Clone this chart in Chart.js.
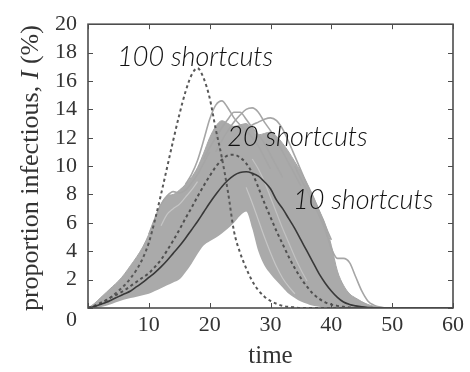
<!DOCTYPE html>
<html>
<head>
<meta charset="utf-8">
<script src="https://cdn.jsdelivr.net/npm/chart.js@4/dist/chart.umd.min.js"></script>
<style>
  html, body { margin: 0; padding: 0; background: #fff; }
</style>
</head>
<body>
<canvas id="c" width="470" height="372"></canvas>
<script>
// time steps (days)
const time = [0,1,2,3,4,5,6,7,8,9,10,11,12,13,14,15,16,17,18,19,20,21,22,23,24,25,26,27,28,29,30,31,32,33,34,35,36,37,38,39,40,41,42,43,44,45,46,47,48,49,50,51,52,53,54,55,56,57,58,59,60];

// mean epidemic curve, 10 shortcuts (solid)
const shortcuts10 = [0,0.1,0.25,0.4,0.6,0.8,1.0,1.2,1.5,1.8,
  2.15,2.5,2.9,3.35,3.85,4.35,4.9,5.5,6.1,6.75,
  7.4,8.0,8.55,9.0,9.35,9.55,9.6,9.5,9.3,8.9,
  8.4,7.6,7.0,6.3,5.6,4.8,4.0,3.2,2.4,1.75,
  1.2,0.75,0.42,0.25,0.15,0.08,0.04,0.02,0,0,
  0,0,0,0,0,0,0,0,0,0,0];

// mean epidemic curve, 20 shortcuts (dashed)
const shortcuts20 = [0,0.15,0.35,0.55,0.8,1.0,1.25,1.55,1.85,2.15,
  2.45,2.9,3.4,4.05,4.75,5.5,6.3,7.05,7.85,8.6,
  9.3,9.95,10.45,10.75,10.8,10.6,10.2,9.5,8.5,7.4,
  6.4,5.4,4.5,3.6,2.8,2.1,1.5,1.0,0.65,0.4,
  0.25,0.15,0.08,0.04,0.02,0,0,0,0,0,
  0,0,0,0,0,0,0,0,0,0,0];

// mean epidemic curve, 100 shortcuts (dashed)
const shortcuts100 = [0,0.1,0.3,0.55,0.85,1.2,1.6,2.1,2.7,3.5,
  4.6,6.2,8.0,9.9,11.8,13.6,15.2,16.4,16.9,16.2,
  14.8,12.6,10.6,8.2,5.4,3.9,2.8,1.9,1.25,0.8,
  0.5,0.3,0.15,0.08,0.04,0,0,0,0,0,
  0,0,0,0,0,0,0,0,0,0,
  0,0,0,0,0,0,0,0,0,0,0];

// spread of the individual 10-shortcut runs: lower and upper edge of the dense bundle
const runsLow = [0,0,0.05,0.15,0.3,0.45,0.6,0.7,0.8,0.9,
  1.0,1.2,1.4,1.6,1.8,2.0,2.5,3.1,3.8,4.4,
  4.7,4.95,5.25,5.6,6.0,6.5,6.8,5.6,4.0,3.0,
  2.4,1.9,1.45,1.0,0.7,0.45,0.3,0.15,0.08,0.03,
  0,0,0,0,0,0,0,0,0,0,
  0,0,0,0,0,0,0,0,0,0,0];
const runsHigh = [0,0.3,0.7,1.1,1.5,1.9,2.4,3.0,3.6,4.3,
  5.2,6.3,7.3,7.9,8.0,8.3,8.7,9.2,9.9,10.9,
  12.0,12.8,13.2,13.0,12.8,12.9,13.0,12.6,12.2,12.3,
  12.4,12.1,11.6,11.0,10.3,9.6,8.8,7.9,6.9,5.9,
  4.4,2.6,1.6,1.0,0.7,0.45,0.25,0.12,0.05,0.02,
  0,0,0,0,0,0,0,0,0,0,0];

// single runs standing out of the bundle
const _ = null;
const runA = [_,_,_,_,_,_,_,_,_,_,_,_,_,_,_,_,
  8.7,9.4,10.4,11.8,13.3,14.3,14.6,14.1,13.4,12.9,12.5,12.0,11.4,10.6,9.8,
  _,_,_,_,_,_,_,_,_,_,_,_,_,_,_,_,_,_,_,_,_,_,_,_,_,_,_,_,_,_];
const runB = [_,_,_,_,_,_,_,_,_,_,_,_,_,_,_,_,_,_,_,
  10.5,11.3,12.0,12.7,13.3,13.8,13.8,13.3,12.7,12.2,11.6,10.8,10.0,9.2,
  _,_,_,_,_,_,_,_,_,_,_,_,_,_,_,_,_,_,_,_,_,_,_,_,_,_,_,_];
const runC = [_,_,_,_,_,_,_,_,_,_,_,_,_,_,_,_,_,_,_,_,_,
  11.0,11.8,12.5,13.1,13.6,14.0,14.1,13.8,13.1,12.5,11.8,11.0,10.2,9.4,8.6,
  _,_,_,_,_,_,_,_,_,_,_,_,_,_,_,_,_,_,_,_,_,_,_,_,_];
const runD = [_,_,_,_,_,_,_,_,_,_,_,_,_,_,_,_,_,_,_,_,_,_,_,_,
  11.8,12.2,12.6,12.9,13.1,13.3,13.4,13.2,12.6,11.7,10.7,9.7,8.7,7.8,6.8,5.8,4.8,
  _,_,_,_,_,_,_,_,_,_,_,_,_,_,_,_,_,_,_,_];
const runE = [_,_,_,_,_,_,_,_,_,_,_,_,_,_,_,_,_,_,_,_,_,_,_,_,_,_,_,_,_,_,_,_,_,_,
  10.0,9.1,8.3,7.4,6.5,5.5,4.2,3.5,3.5,3.2,2.2,1.2,0.5,0.2,0.06,0,
  _,_,_,_,_,_,_,_,_,_,_];
const runF = [_,_,_,_,_,_,_,_,_,_,
  5.2,6.3,7.3,7.9,8.2,8.1,8.3,8.8,9.4,10.2,11.0,
  _,_,_,_,_,_,_,_,_,_,_,_,_,_,_,_,_,_,_,_,_,_,_,_,_,_,_,_,_,_,_,_,_,_,_,_,_,_,_,_];

// paler runs inside the bundle
const paleA = [_,_,_,_,_,_,_,_,_,_,_,_,
  5.8,6.6,7.0,7.3,7.8,8.3,8.9,
  _,_,_,_,_,_,_,_,_,_,_,_,_,_,_,_,_,_,_,_,_,_,_,_,_,_,_,_,_,_,_,_,_,_,_,_,_,_,_,_,_,_];
const paleB = [_,_,_,_,_,_,_,_,_,_,_,_,_,_,_,_,_,_,_,_,_,_,_,_,_,_,
  8.5,7.4,6.2,5.0,3.9,2.9,2.1,1.5,1.0,
  _,_,_,_,_,_,_,_,_,_,_,_,_,_,_,_,_,_,_,_,_,_,_,_,_,_];
const paleC = [_,_,_,_,_,_,_,_,_,_,_,_,_,_,_,_,_,_,_,_,_,_,_,_,_,_,_,
  10.5,9.8,8.9,7.8,6.7,5.6,4.6,3.6,2.7,1.9,
  _,_,_,_,_,_,_,_,_,_,_,_,_,_,_,_,_,_,_,_,_,_,_,_];

// curve labels: text, time, proportion
const noteText = ['100 shortcuts', '20 shortcuts', '10 shortcuts'];
const noteTime = [4.8, 22.9, 33.7];
const noteLevel = [17.7, 12.0, 7.6];

const pts = arr => time.map((t, i) => ({ x: t, y: arr[i] }));

const runGrey = '#a6a6a6';
const runLine = (arr, colour, width, order) => ({
  data: pts(arr), borderColor: colour, borderWidth: width, pointRadius: 0,
  fill: false, cubicInterpolationMode: 'monotone', spanGaps: false, order: order
});

const serif = '"Liberation Serif", "Times New Roman", serif';

// inward ticks, frame, corner zero and curve labels
const framePlugin = {
  id: 'frame',
  afterDatasetsDraw(chart) {
    const { ctx, chartArea: a, scales: { x, y } } = chart;
    ctx.save();
    ctx.strokeStyle = '#4d4d4d';
    ctx.lineWidth = 1;
    ctx.beginPath();
    y.ticks.forEach(t => {
      const py = Math.round(y.getPixelForValue(t.value)) + 0.5;
      ctx.moveTo(a.left, py); ctx.lineTo(a.left + 5, py);
      ctx.moveTo(a.right - 5, py); ctx.lineTo(a.right, py);
    });
    x.ticks.forEach(t => {
      const px = Math.round(x.getPixelForValue(t.value)) + 0.5;
      ctx.moveTo(px, a.bottom); ctx.lineTo(px, a.bottom - 5);
      ctx.moveTo(px, a.top); ctx.lineTo(px, a.top + 5);
    });
    ctx.stroke();
    ctx.lineWidth = 1.6;
    ctx.strokeRect(a.left, a.top, a.right - a.left, a.bottom - a.top);

    ctx.fillStyle = '#111';
    ctx.font = 'italic 300 27px Lato, "Open Sans", sans-serif';
    ctx.textAlign = 'left';
    ctx.textBaseline = 'middle';
    noteText.forEach((s, i) => {
      ctx.fillText(s, x.getPixelForValue(noteTime[i]), y.getPixelForValue(noteLevel[i]));
    });

    ctx.fillStyle = '#333';
    ctx.font = '22px ' + serif;
    ctx.textAlign = 'right';
    ctx.fillText('0', a.left - 11, a.bottom + 12);
    ctx.restore();
  }
};

// vertical axis title with an italic symbol
const yTitlePlugin = {
  id: 'yTitle',
  afterDraw(chart) {
    const ctx = chart.ctx;
    const a = chart.chartArea;
    const parts = [
      ['proportion infectious, ', '26px ' + serif],
      ['I', 'italic 26px ' + serif],
      [' (%)', '26px ' + serif]
    ];
    ctx.save();
    ctx.fillStyle = '#333';
    ctx.textBaseline = 'alphabetic';
    ctx.textAlign = 'left';
    let total = 0;
    parts.forEach(p => { ctx.font = p[1]; total += ctx.measureText(p[0]).width; });
    ctx.translate(38, (a.top + a.bottom) / 2 + 2);
    ctx.rotate(-Math.PI / 2);
    let cx = -total / 2;
    parts.forEach(p => { ctx.font = p[1]; ctx.fillText(p[0], cx, 0); cx += ctx.measureText(p[0]).width; });
    ctx.restore();
  }
};

new Chart(document.getElementById('c'), {
  type: 'line',
  data: {
    datasets: [
      { data: pts(shortcuts10), borderColor: '#383838', borderWidth: 1.6, pointRadius: 0,
        fill: false, cubicInterpolationMode: 'monotone', order: 1 },
      { data: pts(shortcuts20), borderColor: '#505050', borderWidth: 2, borderDash: [3, 3],
        pointRadius: 0, fill: false, cubicInterpolationMode: 'monotone', order: 1 },
      { data: pts(shortcuts100), borderColor: '#585858', borderWidth: 2, borderDash: [3, 3],
        pointRadius: 0, fill: false, cubicInterpolationMode: 'monotone', order: 1 },
      runLine(paleA, '#c6c6c6', 1.2, 4), runLine(paleB, '#c6c6c6', 1.2, 4), runLine(paleC, '#c2c2c2', 1.2, 4),
      runLine(runA, runGrey, 1.6, 5), runLine(runB, runGrey, 1.6, 5), runLine(runC, runGrey, 1.6, 5),
      runLine(runD, runGrey, 1.6, 5), runLine(runE, runGrey, 1.6, 5), runLine(runF, runGrey, 1.6, 5),
      { data: pts(runsLow), borderWidth: 0, pointRadius: 0, fill: false,
        cubicInterpolationMode: 'monotone', order: 10 },
      { data: pts(runsHigh), borderColor: runGrey, borderWidth: 1, pointRadius: 0,
        backgroundColor: '#aaaaaa', fill: '-1', cubicInterpolationMode: 'monotone', order: 9 }
    ]
  },
  options: {
    responsive: false,
    animation: false,
    devicePixelRatio: 1,
    layout: { padding: { top: 19, right: 17, left: 0, bottom: 0 } },
    plugins: { legend: { display: false }, tooltip: { enabled: false } },
    scales: {
      x: {
        type: 'linear', min: 0, max: 60,
        grid: { display: false, drawTicks: false },
        border: { display: false },
        ticks: {
          stepSize: 10, autoSkip: false, maxRotation: 0, padding: 4,
          color: '#333', font: { family: serif, size: 22 },
          callback: v => (v === 0 ? '' : v)
        },
        title: { display: true, text: 'time', color: '#333',
          font: { family: serif, size: 25 }, padding: { top: 0, bottom: 1 } },
        afterFit: s => { s.height = 64; }
      },
      y: {
        min: 0, max: 20,
        grid: { display: false, drawTicks: false },
        border: { display: false },
        ticks: {
          stepSize: 2, autoSkip: false, padding: 11,
          color: '#333', font: { family: serif, size: 22 },
          callback: v => (v === 0 ? '' : v)
        },
        afterFit: s => { s.width = 88; }
      }
    }
  },
  plugins: [framePlugin, yTitlePlugin]
});
</script>
</body>
</html>
